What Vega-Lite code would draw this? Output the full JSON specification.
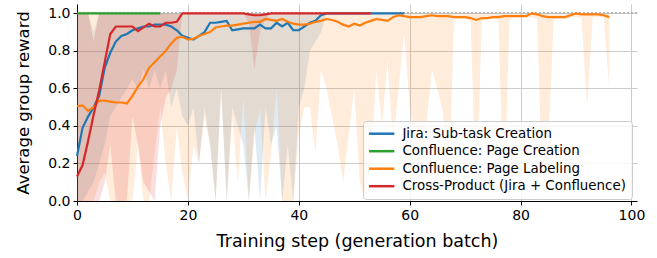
{
"$schema": "https://vega.github.io/schema/vega-lite/v6.json",
"width": 560, "height": 197,
"autosize": {"type": "none"},
"padding": {"left": 77, "top": 4, "right": 20, "bottom": 57},
"config": {
  "font": "DejaVu Sans",
  "view": {"stroke": null},
  "axis": {"domainColor": "#000", "domainWidth": 1, "tickColor": "#000", "tickSize": 4, "labelFontSize": 14, "labelColor": "#000", "titleFontSize": 16.5, "titleFontWeight": "normal", "titleColor": "#000", "gridColor": "#cccccc", "gridWidth": 1, "labelFont": "DejaVu Sans", "titleFont": "DejaVu Sans", "labelOverlap": false, "tickCount": 12}
},
"data": {"values": [
{"series":"Jira: Sub-task Creation","step":0,"mean":0.24,"lo":0,"hi":1},
{"series":"Jira: Sub-task Creation","step":1,"mean":0.39,"lo":0,"hi":1},
{"series":"Jira: Sub-task Creation","step":2,"mean":0.45,"lo":0.05,"hi":1},
{"series":"Jira: Sub-task Creation","step":3,"mean":0.5,"lo":0.1,"hi":0.9},
{"series":"Jira: Sub-task Creation","step":4,"mean":0.56,"lo":0.2,"hi":1},
{"series":"Jira: Sub-task Creation","step":5,"mean":0.71,"lo":0.3,"hi":1},
{"series":"Jira: Sub-task Creation","step":6,"mean":0.79,"lo":0.45,"hi":1},
{"series":"Jira: Sub-task Creation","step":7,"mean":0.85,"lo":0.5,"hi":1},
{"series":"Jira: Sub-task Creation","step":8,"mean":0.88,"lo":0.55,"hi":1},
{"series":"Jira: Sub-task Creation","step":9,"mean":0.89,"lo":0.6,"hi":1},
{"series":"Jira: Sub-task Creation","step":10,"mean":0.91,"lo":0.65,"hi":1},
{"series":"Jira: Sub-task Creation","step":11,"mean":0.92,"lo":0.6,"hi":1},
{"series":"Jira: Sub-task Creation","step":12,"mean":0.93,"lo":0.7,"hi":1},
{"series":"Jira: Sub-task Creation","step":13,"mean":0.93,"lo":0.6,"hi":1},
{"series":"Jira: Sub-task Creation","step":14,"mean":0.94,"lo":0.7,"hi":1},
{"series":"Jira: Sub-task Creation","step":15,"mean":0.94,"lo":0.6,"hi":1},
{"series":"Jira: Sub-task Creation","step":16,"mean":0.94,"lo":0.7,"hi":1},
{"series":"Jira: Sub-task Creation","step":17,"mean":0.93,"lo":0.5,"hi":1},
{"series":"Jira: Sub-task Creation","step":18,"mean":0.91,"lo":0.6,"hi":1},
{"series":"Jira: Sub-task Creation","step":19,"mean":0.88,"lo":0.45,"hi":1},
{"series":"Jira: Sub-task Creation","step":20,"mean":0.87,"lo":0.4,"hi":1},
{"series":"Jira: Sub-task Creation","step":21,"mean":0.86,"lo":0.5,"hi":1},
{"series":"Jira: Sub-task Creation","step":22,"mean":0.88,"lo":0.2,"hi":1},
{"series":"Jira: Sub-task Creation","step":23,"mean":0.9,"lo":0.5,"hi":1},
{"series":"Jira: Sub-task Creation","step":24,"mean":0.95,"lo":0.3,"hi":1},
{"series":"Jira: Sub-task Creation","step":25,"mean":0.95,"lo":0,"hi":1},
{"series":"Jira: Sub-task Creation","step":26,"mean":0.955,"lo":0.6,"hi":1},
{"series":"Jira: Sub-task Creation","step":27,"mean":0.96,"lo":0,"hi":1},
{"series":"Jira: Sub-task Creation","step":28,"mean":0.91,"lo":0.5,"hi":1},
{"series":"Jira: Sub-task Creation","step":29,"mean":0.915,"lo":0.4,"hi":1},
{"series":"Jira: Sub-task Creation","step":30,"mean":0.92,"lo":0.3,"hi":1},
{"series":"Jira: Sub-task Creation","step":31,"mean":0.92,"lo":0,"hi":1},
{"series":"Jira: Sub-task Creation","step":32,"mean":0.92,"lo":0.4,"hi":1},
{"series":"Jira: Sub-task Creation","step":33,"mean":0.94,"lo":0,"hi":1},
{"series":"Jira: Sub-task Creation","step":34,"mean":0.92,"lo":0.5,"hi":1},
{"series":"Jira: Sub-task Creation","step":35,"mean":0.92,"lo":0.3,"hi":1},
{"series":"Jira: Sub-task Creation","step":36,"mean":0.95,"lo":0.4,"hi":1},
{"series":"Jira: Sub-task Creation","step":37,"mean":0.93,"lo":0,"hi":1},
{"series":"Jira: Sub-task Creation","step":38,"mean":0.95,"lo":0.3,"hi":1},
{"series":"Jira: Sub-task Creation","step":39,"mean":0.91,"lo":0,"hi":1},
{"series":"Jira: Sub-task Creation","step":40,"mean":0.91,"lo":0.5,"hi":1},
{"series":"Jira: Sub-task Creation","step":41,"mean":0.93,"lo":0.6,"hi":1},
{"series":"Jira: Sub-task Creation","step":42,"mean":0.95,"lo":0.8,"hi":1},
{"series":"Jira: Sub-task Creation","step":43,"mean":0.96,"lo":0.85,"hi":1},
{"series":"Jira: Sub-task Creation","step":44,"mean":0.99,"lo":0.9,"hi":1},
{"series":"Jira: Sub-task Creation","step":45,"mean":1,"lo":1,"hi":1},
{"series":"Jira: Sub-task Creation","step":46,"mean":1,"lo":1,"hi":1},
{"series":"Jira: Sub-task Creation","step":47,"mean":1,"lo":1,"hi":1},
{"series":"Jira: Sub-task Creation","step":48,"mean":1,"lo":1,"hi":1},
{"series":"Jira: Sub-task Creation","step":49,"mean":1,"lo":1,"hi":1},
{"series":"Jira: Sub-task Creation","step":50,"mean":1,"lo":1,"hi":1},
{"series":"Jira: Sub-task Creation","step":51,"mean":1,"lo":1,"hi":1},
{"series":"Jira: Sub-task Creation","step":52,"mean":1,"lo":1,"hi":1},
{"series":"Jira: Sub-task Creation","step":53,"mean":1,"lo":1,"hi":1},
{"series":"Jira: Sub-task Creation","step":54,"mean":1,"lo":1,"hi":1},
{"series":"Jira: Sub-task Creation","step":55,"mean":1,"lo":1,"hi":1},
{"series":"Jira: Sub-task Creation","step":56,"mean":1,"lo":1,"hi":1},
{"series":"Jira: Sub-task Creation","step":57,"mean":1,"lo":1,"hi":1},
{"series":"Jira: Sub-task Creation","step":58,"mean":1,"lo":1,"hi":1},
{"series":"Jira: Sub-task Creation","step":59,"mean":1,"lo":1,"hi":1},
{"series":"Confluence: Page Creation","step":0,"mean":1,"lo":1,"hi":1},
{"series":"Confluence: Page Creation","step":1,"mean":1,"lo":1,"hi":1},
{"series":"Confluence: Page Creation","step":2,"mean":1,"lo":1,"hi":1},
{"series":"Confluence: Page Creation","step":3,"mean":1,"lo":1,"hi":1},
{"series":"Confluence: Page Creation","step":4,"mean":1,"lo":1,"hi":1},
{"series":"Confluence: Page Creation","step":5,"mean":1,"lo":1,"hi":1},
{"series":"Confluence: Page Creation","step":6,"mean":1,"lo":1,"hi":1},
{"series":"Confluence: Page Creation","step":7,"mean":1,"lo":1,"hi":1},
{"series":"Confluence: Page Creation","step":8,"mean":1,"lo":1,"hi":1},
{"series":"Confluence: Page Creation","step":9,"mean":1,"lo":1,"hi":1},
{"series":"Confluence: Page Creation","step":10,"mean":1,"lo":1,"hi":1},
{"series":"Confluence: Page Creation","step":11,"mean":1,"lo":1,"hi":1},
{"series":"Confluence: Page Creation","step":12,"mean":1,"lo":1,"hi":1},
{"series":"Confluence: Page Creation","step":13,"mean":1,"lo":1,"hi":1},
{"series":"Confluence: Page Creation","step":14,"mean":1,"lo":1,"hi":1},
{"series":"Confluence: Page Creation","step":15,"mean":1,"lo":1,"hi":1},
{"series":"Confluence: Page Labeling","step":0,"mean":0.505,"lo":0,"hi":1},
{"series":"Confluence: Page Labeling","step":1,"mean":0.51,"lo":0,"hi":1},
{"series":"Confluence: Page Labeling","step":2,"mean":0.48,"lo":0,"hi":1},
{"series":"Confluence: Page Labeling","step":3,"mean":0.5,"lo":0,"hi":1},
{"series":"Confluence: Page Labeling","step":4,"mean":0.535,"lo":0.1,"hi":1},
{"series":"Confluence: Page Labeling","step":5,"mean":0.535,"lo":0.15,"hi":1},
{"series":"Confluence: Page Labeling","step":6,"mean":0.53,"lo":0,"hi":1},
{"series":"Confluence: Page Labeling","step":7,"mean":0.525,"lo":0,"hi":1},
{"series":"Confluence: Page Labeling","step":8,"mean":0.525,"lo":0,"hi":1},
{"series":"Confluence: Page Labeling","step":9,"mean":0.52,"lo":0,"hi":1},
{"series":"Confluence: Page Labeling","step":10,"mean":0.56,"lo":0,"hi":1},
{"series":"Confluence: Page Labeling","step":11,"mean":0.61,"lo":0.3,"hi":1},
{"series":"Confluence: Page Labeling","step":12,"mean":0.65,"lo":0,"hi":1},
{"series":"Confluence: Page Labeling","step":13,"mean":0.71,"lo":0,"hi":1},
{"series":"Confluence: Page Labeling","step":14,"mean":0.74,"lo":0.25,"hi":1},
{"series":"Confluence: Page Labeling","step":15,"mean":0.77,"lo":0.5,"hi":1},
{"series":"Confluence: Page Labeling","step":16,"mean":0.8,"lo":0.2,"hi":1},
{"series":"Confluence: Page Labeling","step":17,"mean":0.84,"lo":0,"hi":1},
{"series":"Confluence: Page Labeling","step":18,"mean":0.87,"lo":0.4,"hi":1},
{"series":"Confluence: Page Labeling","step":19,"mean":0.875,"lo":0.15,"hi":1},
{"series":"Confluence: Page Labeling","step":20,"mean":0.86,"lo":0,"hi":1},
{"series":"Confluence: Page Labeling","step":21,"mean":0.865,"lo":0.3,"hi":1},
{"series":"Confluence: Page Labeling","step":22,"mean":0.88,"lo":0.2,"hi":1},
{"series":"Confluence: Page Labeling","step":23,"mean":0.89,"lo":0.45,"hi":1},
{"series":"Confluence: Page Labeling","step":24,"mean":0.9,"lo":0.3,"hi":1},
{"series":"Confluence: Page Labeling","step":25,"mean":0.925,"lo":0,"hi":1},
{"series":"Confluence: Page Labeling","step":26,"mean":0.93,"lo":0.6,"hi":1},
{"series":"Confluence: Page Labeling","step":27,"mean":0.935,"lo":0,"hi":1},
{"series":"Confluence: Page Labeling","step":28,"mean":0.935,"lo":0.45,"hi":1},
{"series":"Confluence: Page Labeling","step":29,"mean":0.94,"lo":0.1,"hi":1},
{"series":"Confluence: Page Labeling","step":30,"mean":0.945,"lo":0.55,"hi":1},
{"series":"Confluence: Page Labeling","step":31,"mean":0.95,"lo":0,"hi":1},
{"series":"Confluence: Page Labeling","step":32,"mean":0.955,"lo":0.35,"hi":1},
{"series":"Confluence: Page Labeling","step":33,"mean":0.955,"lo":0.5,"hi":1},
{"series":"Confluence: Page Labeling","step":34,"mean":0.97,"lo":0,"hi":1},
{"series":"Confluence: Page Labeling","step":35,"mean":0.965,"lo":0.25,"hi":1},
{"series":"Confluence: Page Labeling","step":36,"mean":0.96,"lo":0.6,"hi":1},
{"series":"Confluence: Page Labeling","step":37,"mean":0.97,"lo":0,"hi":1},
{"series":"Confluence: Page Labeling","step":38,"mean":0.955,"lo":0,"hi":1},
{"series":"Confluence: Page Labeling","step":39,"mean":0.945,"lo":0,"hi":1},
{"series":"Confluence: Page Labeling","step":40,"mean":0.94,"lo":0.35,"hi":1},
{"series":"Confluence: Page Labeling","step":41,"mean":0.94,"lo":0.5,"hi":1},
{"series":"Confluence: Page Labeling","step":42,"mean":0.945,"lo":0.5,"hi":1},
{"series":"Confluence: Page Labeling","step":43,"mean":0.955,"lo":0.25,"hi":1},
{"series":"Confluence: Page Labeling","step":44,"mean":0.96,"lo":0.7,"hi":1},
{"series":"Confluence: Page Labeling","step":45,"mean":0.97,"lo":0.6,"hi":1},
{"series":"Confluence: Page Labeling","step":46,"mean":0.965,"lo":0.45,"hi":1},
{"series":"Confluence: Page Labeling","step":47,"mean":0.955,"lo":0.3,"hi":1},
{"series":"Confluence: Page Labeling","step":48,"mean":0.94,"lo":0.1,"hi":1},
{"series":"Confluence: Page Labeling","step":49,"mean":0.93,"lo":0.35,"hi":1},
{"series":"Confluence: Page Labeling","step":50,"mean":0.945,"lo":0.6,"hi":1},
{"series":"Confluence: Page Labeling","step":51,"mean":0.935,"lo":0.1,"hi":1},
{"series":"Confluence: Page Labeling","step":52,"mean":0.95,"lo":0,"hi":1},
{"series":"Confluence: Page Labeling","step":53,"mean":0.96,"lo":0.2,"hi":1},
{"series":"Confluence: Page Labeling","step":54,"mean":0.97,"lo":0.7,"hi":1},
{"series":"Confluence: Page Labeling","step":55,"mean":0.965,"lo":0.4,"hi":1},
{"series":"Confluence: Page Labeling","step":56,"mean":0.96,"lo":0.75,"hi":1},
{"series":"Confluence: Page Labeling","step":57,"mean":0.98,"lo":0.3,"hi":1},
{"series":"Confluence: Page Labeling","step":58,"mean":0.99,"lo":0.6,"hi":1},
{"series":"Confluence: Page Labeling","step":59,"mean":0.985,"lo":0.9,"hi":1},
{"series":"Confluence: Page Labeling","step":60,"mean":0.98,"lo":0.5,"hi":1},
{"series":"Confluence: Page Labeling","step":61,"mean":0.98,"lo":0.3,"hi":1},
{"series":"Confluence: Page Labeling","step":62,"mean":0.98,"lo":0,"hi":1},
{"series":"Confluence: Page Labeling","step":63,"mean":0.985,"lo":0.4,"hi":1},
{"series":"Confluence: Page Labeling","step":64,"mean":0.99,"lo":0.7,"hi":1},
{"series":"Confluence: Page Labeling","step":65,"mean":0.985,"lo":0.6,"hi":1},
{"series":"Confluence: Page Labeling","step":66,"mean":0.985,"lo":0.47,"hi":1},
{"series":"Confluence: Page Labeling","step":67,"mean":0.985,"lo":0,"hi":1},
{"series":"Confluence: Page Labeling","step":68,"mean":0.98,"lo":0.97,"hi":1},
{"series":"Confluence: Page Labeling","step":69,"mean":0.98,"lo":0.97,"hi":1},
{"series":"Confluence: Page Labeling","step":70,"mean":0.98,"lo":0.97,"hi":1},
{"series":"Confluence: Page Labeling","step":71,"mean":0.975,"lo":0.96,"hi":1},
{"series":"Confluence: Page Labeling","step":72,"mean":0.965,"lo":0,"hi":1},
{"series":"Confluence: Page Labeling","step":73,"mean":0.975,"lo":0.96,"hi":1},
{"series":"Confluence: Page Labeling","step":74,"mean":0.975,"lo":0.97,"hi":1},
{"series":"Confluence: Page Labeling","step":75,"mean":0.98,"lo":0.97,"hi":1},
{"series":"Confluence: Page Labeling","step":76,"mean":0.98,"lo":0.97,"hi":1},
{"series":"Confluence: Page Labeling","step":77,"mean":0.985,"lo":0,"hi":1},
{"series":"Confluence: Page Labeling","step":78,"mean":0.985,"lo":0.97,"hi":1},
{"series":"Confluence: Page Labeling","step":79,"mean":0.985,"lo":0.98,"hi":1},
{"series":"Confluence: Page Labeling","step":80,"mean":0.985,"lo":0.98,"hi":1},
{"series":"Confluence: Page Labeling","step":81,"mean":0.985,"lo":0.98,"hi":1},
{"series":"Confluence: Page Labeling","step":82,"mean":1,"lo":0.98,"hi":1},
{"series":"Confluence: Page Labeling","step":83,"mean":0.995,"lo":0.97,"hi":1},
{"series":"Confluence: Page Labeling","step":84,"mean":0.985,"lo":0,"hi":1},
{"series":"Confluence: Page Labeling","step":85,"mean":0.98,"lo":0.3,"hi":1},
{"series":"Confluence: Page Labeling","step":86,"mean":0.98,"lo":0.97,"hi":1},
{"series":"Confluence: Page Labeling","step":87,"mean":0.98,"lo":0.97,"hi":1},
{"series":"Confluence: Page Labeling","step":88,"mean":0.98,"lo":0.97,"hi":1},
{"series":"Confluence: Page Labeling","step":89,"mean":0.99,"lo":0.98,"hi":1},
{"series":"Confluence: Page Labeling","step":90,"mean":1,"lo":0.98,"hi":1},
{"series":"Confluence: Page Labeling","step":91,"mean":0.995,"lo":0.98,"hi":1},
{"series":"Confluence: Page Labeling","step":92,"mean":0.995,"lo":0.5,"hi":1},
{"series":"Confluence: Page Labeling","step":93,"mean":0.995,"lo":0.98,"hi":1},
{"series":"Confluence: Page Labeling","step":94,"mean":0.995,"lo":0.98,"hi":1},
{"series":"Confluence: Page Labeling","step":95,"mean":0.99,"lo":0.98,"hi":1},
{"series":"Confluence: Page Labeling","step":96,"mean":0.98,"lo":0.6,"hi":1},
{"series":"Cross-Product (Jira + Confluence)","step":0,"mean":0.13,"lo":0,"hi":1},
{"series":"Cross-Product (Jira + Confluence)","step":1,"mean":0.19,"lo":0,"hi":1},
{"series":"Cross-Product (Jira + Confluence)","step":2,"mean":0.32,"lo":0,"hi":1},
{"series":"Cross-Product (Jira + Confluence)","step":3,"mean":0.46,"lo":0,"hi":0.85},
{"series":"Cross-Product (Jira + Confluence)","step":4,"mean":0.59,"lo":0,"hi":1},
{"series":"Cross-Product (Jira + Confluence)","step":5,"mean":0.74,"lo":0.1,"hi":1},
{"series":"Cross-Product (Jira + Confluence)","step":6,"mean":0.89,"lo":0.3,"hi":1},
{"series":"Cross-Product (Jira + Confluence)","step":7,"mean":0.93,"lo":0,"hi":1},
{"series":"Cross-Product (Jira + Confluence)","step":8,"mean":0.93,"lo":0,"hi":1},
{"series":"Cross-Product (Jira + Confluence)","step":9,"mean":0.93,"lo":0,"hi":1},
{"series":"Cross-Product (Jira + Confluence)","step":10,"mean":0.93,"lo":0.45,"hi":1},
{"series":"Cross-Product (Jira + Confluence)","step":11,"mean":0.905,"lo":0.3,"hi":1},
{"series":"Cross-Product (Jira + Confluence)","step":12,"mean":0.925,"lo":0.1,"hi":1},
{"series":"Cross-Product (Jira + Confluence)","step":13,"mean":0.945,"lo":0.05,"hi":1},
{"series":"Cross-Product (Jira + Confluence)","step":14,"mean":0.93,"lo":0,"hi":1},
{"series":"Cross-Product (Jira + Confluence)","step":15,"mean":0.93,"lo":0.4,"hi":1},
{"series":"Cross-Product (Jira + Confluence)","step":16,"mean":0.95,"lo":0.55,"hi":1},
{"series":"Cross-Product (Jira + Confluence)","step":17,"mean":0.95,"lo":0.6,"hi":1},
{"series":"Cross-Product (Jira + Confluence)","step":18,"mean":0.955,"lo":0.7,"hi":1},
{"series":"Cross-Product (Jira + Confluence)","step":19,"mean":1,"lo":1,"hi":1},
{"series":"Cross-Product (Jira + Confluence)","step":20,"mean":1,"lo":1,"hi":1},
{"series":"Cross-Product (Jira + Confluence)","step":21,"mean":1,"lo":1,"hi":1},
{"series":"Cross-Product (Jira + Confluence)","step":22,"mean":1,"lo":1,"hi":1},
{"series":"Cross-Product (Jira + Confluence)","step":23,"mean":1,"lo":1,"hi":1},
{"series":"Cross-Product (Jira + Confluence)","step":24,"mean":1,"lo":1,"hi":1},
{"series":"Cross-Product (Jira + Confluence)","step":25,"mean":1,"lo":1,"hi":1},
{"series":"Cross-Product (Jira + Confluence)","step":26,"mean":1,"lo":1,"hi":1},
{"series":"Cross-Product (Jira + Confluence)","step":27,"mean":1,"lo":1,"hi":1},
{"series":"Cross-Product (Jira + Confluence)","step":28,"mean":1,"lo":1,"hi":1},
{"series":"Cross-Product (Jira + Confluence)","step":29,"mean":1,"lo":1,"hi":1},
{"series":"Cross-Product (Jira + Confluence)","step":30,"mean":1,"lo":1,"hi":1},
{"series":"Cross-Product (Jira + Confluence)","step":31,"mean":0.995,"lo":0.95,"hi":1},
{"series":"Cross-Product (Jira + Confluence)","step":32,"mean":0.99,"lo":0.7,"hi":1},
{"series":"Cross-Product (Jira + Confluence)","step":33,"mean":0.99,"lo":0.9,"hi":1},
{"series":"Cross-Product (Jira + Confluence)","step":34,"mean":0.995,"lo":0.97,"hi":1},
{"series":"Cross-Product (Jira + Confluence)","step":35,"mean":1,"lo":1,"hi":1},
{"series":"Cross-Product (Jira + Confluence)","step":36,"mean":1,"lo":1,"hi":1},
{"series":"Cross-Product (Jira + Confluence)","step":37,"mean":1,"lo":1,"hi":1},
{"series":"Cross-Product (Jira + Confluence)","step":38,"mean":1,"lo":1,"hi":1},
{"series":"Cross-Product (Jira + Confluence)","step":39,"mean":1,"lo":1,"hi":1},
{"series":"Cross-Product (Jira + Confluence)","step":40,"mean":1,"lo":1,"hi":1},
{"series":"Cross-Product (Jira + Confluence)","step":41,"mean":1,"lo":1,"hi":1},
{"series":"Cross-Product (Jira + Confluence)","step":42,"mean":1,"lo":1,"hi":1},
{"series":"Cross-Product (Jira + Confluence)","step":43,"mean":1,"lo":1,"hi":1},
{"series":"Cross-Product (Jira + Confluence)","step":44,"mean":1,"lo":1,"hi":1},
{"series":"Cross-Product (Jira + Confluence)","step":45,"mean":1,"lo":1,"hi":1},
{"series":"Cross-Product (Jira + Confluence)","step":46,"mean":1,"lo":1,"hi":1},
{"series":"Cross-Product (Jira + Confluence)","step":47,"mean":1,"lo":1,"hi":1},
{"series":"Cross-Product (Jira + Confluence)","step":48,"mean":1,"lo":1,"hi":1},
{"series":"Cross-Product (Jira + Confluence)","step":49,"mean":1,"lo":1,"hi":1},
{"series":"Cross-Product (Jira + Confluence)","step":50,"mean":1,"lo":1,"hi":1},
{"series":"Cross-Product (Jira + Confluence)","step":51,"mean":1,"lo":1,"hi":1},
{"series":"Cross-Product (Jira + Confluence)","step":52,"mean":1,"lo":1,"hi":1},
{"series":"Cross-Product (Jira + Confluence)","step":53,"mean":1,"lo":1,"hi":1}
]},
"resolve": {"legend": {"color": "independent"}},
"layer": [
  {"mark": {"type": "area", "fillOpacity": 0.15, "strokeWidth": 0},
   "encoding": {
     "x": {"field": "step", "type": "quantitative", "scale": {"domain": [0, 101], "nice": false, "zero": false},
           "axis": {"values": [0, 20, 40, 60, 80, 100], "title": "Training step (generation batch)", "titleFontSize": 17.5, "labelPadding": 3, "titlePadding": 10, "labelFlush": false}},
     "y": {"field": "lo", "type": "quantitative", "stack": null, "scale": {"domain": [0, 1.05], "nice": false},
           "axis": {"values": [0, 0.2, 0.4, 0.6, 0.8, 1.0], "format": ".1f", "title": "Average group reward", "labelPadding": 3, "titlePadding": 16}},
     "y2": {"field": "hi"},
     "color": {"field": "series", "type": "nominal", "legend": null,
            "scale": {"domain": ["Jira: Sub-task Creation", "Confluence: Page Creation", "Confluence: Page Labeling", "Cross-Product (Jira + Confluence)"],
                      "range": ["#1f77b4", "#2ca02c", "#ff7f0e", "#d62728"]}}
   }},
  {"mark": {"type": "rule", "strokeDash": [2, 2], "color": "#b5b5b5", "strokeWidth": 1.2},
   "encoding": {"y": {"datum": 1}}},
  {"mark": {"type": "line", "strokeWidth": 2.2},
   "encoding": {
     "x": {"field": "step", "type": "quantitative", "scale": {"domain": [0, 101], "nice": false, "zero": false},
           "axis": {"values": [0, 20, 40, 60, 80, 100], "title": "Training step (generation batch)", "titleFontSize": 17.5, "labelPadding": 3, "titlePadding": 10, "labelFlush": false}},
     "y": {"field": "mean", "type": "quantitative", "scale": {"domain": [0, 1.05], "nice": false},
           "axis": {"values": [0, 0.2, 0.4, 0.6, 0.8, 1.0], "format": ".1f", "title": "Average group reward", "labelPadding": 3, "titlePadding": 16}},
     "color": {"field": "series", "type": "nominal",
               "scale": {"domain": ["Jira: Sub-task Creation", "Confluence: Page Creation", "Confluence: Page Labeling", "Cross-Product (Jira + Confluence)"],
                      "range": ["#1f77b4", "#2ca02c", "#ff7f0e", "#d62728"]},
               "legend": {"title": null, "orient": "none", "legendX": 286, "legendY": 117, "fillColor": "rgba(255,255,255,0.8)", "strokeColor": "#cccccc", "cornerRadius": 3, "padding": 6, "labelFontSize": 13.4, "labelFont": "DejaVu Sans", "labelColor": "#000", "labelLimit": 400, "symbolType": "M-4,0H4", "symbolSize": 40, "symbolStrokeWidth": 2.5, "rowPadding": 2.5, "symbolOffset": 6, "labelOffset": 14}}
   }}
]
}
